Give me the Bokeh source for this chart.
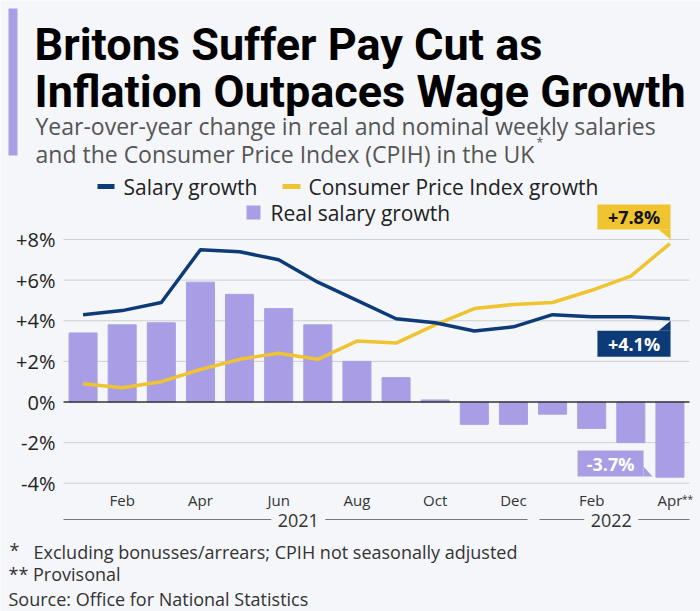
from bokeh.plotting import figure
from bokeh.models import Range1d, FixedTicker, LinearAxis
from bokeh.core.properties import value
from bokeh.embed import file_html
from bokeh.resources import INLINE

# ---------------- data ----------------
months = ["Jan", "Feb", "Mar", "Apr", "May", "Jun", "Jul", "Aug", "Sep", "Oct", "Nov", "Dec",
          "Jan", "Feb", "Mar", "Apr"]
month_idx = list(range(len(months)))
real_salary_growth = [3.4, 3.8, 3.9, 5.9, 5.3, 4.6, 3.8, 2.0, 1.2, 0.1, -1.1, -1.1, -0.6, -1.3, -2.0, -3.7]
salary_growth = [4.3, 4.5, 4.9, 7.5, 7.4, 7.0, 5.9, 5.0, 4.1, 3.9, 3.5, 3.7, 4.3, 4.2, 4.2, 4.1]
cpi_growth = [0.9, 0.7, 1.0, 1.6, 2.1, 2.4, 2.1, 3.0, 2.9, 3.8, 4.6, 4.8, 4.9, 5.5, 6.2, 7.8]

y_ticks = [-4, -2, 0, 2, 4, 6, 8]
y_tick_labels = ["-4%", "-2%", "0%", "+2%", "+4%", "+6%", "+8%"]
x_ticks = [1, 3, 5, 7, 9, 11, 13, 15]
x_tick_labels = ["Feb", "Apr", "Jun", "Aug", "Oct", "Dec", "Feb", "Apr"]
years = ["2021", "2022"]
year_first_idx = [0, 12]
year_last_idx = [11, 15]

title_lines = ["Britons Suffer Pay Cut as", "Inflation Outpaces Wage Growth"]
subtitle_lines = ["Year-over-year change in real and nominal weekly salaries",
                  "and the Consumer Price Index (CPIH) in the UK"]
legend_labels = ["Salary growth", "Consumer Price Index growth", "Real salary growth"]
footer_lines = ["Excluding bonusses/arrears; CPIH not seasonally adjusted",
                "** Provisonal",
                "Source: Office for National Statistics"]

# ---------------- style ----------------
BG = "#f4f6f9"
PURPLE = "#a99ee6"
NAVY = "#0d3b78"
YELLOW = "#f0c330"
GRID = "#cdd0d4"
TXT = "#222222"
FONT = "Open Sans"
TITLE_FONT = "Roboto"

W, H = 700, 611
# pixel geometry of the plotting area
PX_L, PX_R = 63.0, 689.0
UNIT = (PX_R - PX_L) / len(months)      # px per month
PX_ZERO = 401.5                          # pixel row of 0 %
PPP = 20.31                              # px per percentage point


def X(px):
    return -0.5 + (px - PX_L) / UNIT


def Y(py):
    return (PX_ZERO - py) / PPP


def xpix(x):
    return PX_L + (x + 0.5) * UNIT


def ypix(y):
    return PX_ZERO - y * PPP


p = figure(width=W, height=H, x_range=Range1d(X(0), X(W)), y_range=Range1d(Y(H), Y(0)),
           output_backend="svg", toolbar_location=None, min_border=0,
           x_axis_type=None, y_axis_type=None,
           background_fill_color=BG, border_fill_color=BG, outline_line_color=None)

x_lo = month_idx[0] - 0.5
x_hi = month_idx[-1] + 0.5

# ---------------- axes ----------------
yaxis = LinearAxis(fixed_location=x_lo, ticker=FixedTicker(ticks=y_ticks),
                   major_label_overrides=dict(zip(y_ticks, y_tick_labels)),
                   axis_line_color=None, major_tick_line_color=None, minor_tick_line_color=None,
                   major_tick_in=0, major_tick_out=0, major_label_standoff=8,
                   major_label_text_font=FONT, major_label_text_font_size="20px",
                   major_label_text_color=TXT)
p.add_layout(yaxis, "left")

xaxis = LinearAxis(fixed_location=y_ticks[0], ticker=FixedTicker(ticks=x_ticks),
                   major_label_overrides=dict(zip(x_ticks, x_tick_labels)),
                   axis_line_color=None, major_tick_line_color=None, minor_tick_line_color=None,
                   major_tick_in=0, major_tick_out=0, major_label_standoff=7,
                   major_label_text_font=FONT, major_label_text_font_size="15px",
                   major_label_text_color="#333333")
p.add_layout(xaxis, "below")

# grid lines (restricted to the plotting area)
grid_y = [t for t in y_ticks if t != 0]
p.segment(x0=[x_lo] * len(grid_y), x1=[x_hi] * len(grid_y), y0=grid_y, y1=grid_y,
          line_color=GRID, line_width=1)

# ---------------- data marks ----------------
p.vbar(x=month_idx, top=real_salary_growth, bottom=0, width=0.716, color=PURPLE)
p.segment(x0=[x_lo], x1=[x_hi], y0=[0], y1=[0], line_color="#333333", line_width=1.5)
p.line(month_idx, cpi_growth, line_color=YELLOW, line_width=3.5, line_join="round")
p.line(month_idx, salary_growth, line_color=NAVY, line_width=3.5, line_join="round")

# ---------------- value call-outs ----------------
lx = xpix(month_idx[-1])


def callout(l, r, t, b, tail, fill, txt, tcolor, cx):
    p.quad(left=[X(l)], right=[X(r)], top=[Y(t)], bottom=[Y(b)], fill_color=fill, line_color=None)
    p.patch([X(q[0]) for q in tail], [Y(q[1]) for q in tail], fill_color=fill, line_color=None)
    p.text(x=[X(cx)], y=[Y((t + b) / 2)], text=[txt], text_font=value(FONT), text_font_size="18px",
           text_font_style="bold", text_color=tcolor, text_align="center", text_baseline="middle")


cy = ypix(cpi_growth[-1])
r = lx + 0.6
callout(lx - 72.5, r, cy - 39, cy - 14, [(r - 12, cy - 14), (r, cy - 14), (r, cy - 4)],
        YELLOW, f"{cpi_growth[-1]:+.1f}%", "#111111", (lx - 72.5 + r) / 2)

sy = ypix(salary_growth[-1])
callout(lx - 72.5, r, sy + 12, sy + 38, [(r - 12, sy + 12), (r, sy + 12), (r, sy + 2)],
        NAVY, f"{salary_growth[-1]:+.1f}%", "white", (lx - 72.5 + r) / 2)

ry = ypix(real_salary_growth[-1])
rr = lx - 26.4
callout(rr - 66, rr, ry - 26.6, ry - 0.6, [(rr, ry - 10.6), (rr + 9, ry - 0.6), (rr, ry - 0.6)],
        PURPLE, f"{real_salary_growth[-1]:+.1f}%", "white", rr - 33)

# superscript on last month label
p.text(x=[X(xpix(month_idx[-1]) + 12)], y=[Y(491)], text=["**"], text_font=value(FONT),
       text_font_size="10px", text_color="#333333", text_align="left", text_baseline="top")

# ---------------- year groups ----------------
for yr, a, b in zip(years, year_first_idx, year_last_idx):
    gl = xpix(a - 0.5) + (0 if a == month_idx[0] else 6.5)
    gr = xpix(b + 0.5) + (0 if b == month_idx[-1] else -5.5)
    c = (xpix(a - 0.5) + xpix(b + 0.5)) / 2
    p.segment(x0=[X(gl), X(c + 27)], x1=[X(c - 27), X(gr)], y0=[Y(519)] * 2, y1=[Y(519)] * 2,
              line_color="#777777", line_width=1)
    p.text(x=[X(c)], y=[Y(520)], text=[yr], text_font=value(FONT), text_font_size="18px",
           text_color="#333333", text_align="center", text_baseline="middle")

# ---------------- title block ----------------
p.quad(left=[X(8)], right=[X(17)], top=[Y(8)], bottom=[Y(155)], fill_color=PURPLE, line_color=None)
p.text(x=[X(34)] * 2, y=[Y(44), Y(91)], text=title_lines, text_font=value(TITLE_FONT),
       text_font_size="45px", text_font_style="bold", text_color="#000000",
       text_align="left", text_baseline="alphabetic")
p.text(x=[X(35)] * 2, y=[Y(125), Y(153)], text=subtitle_lines, text_font=value(FONT),
       text_font_size="23px", text_color="#555555", text_align="left", text_baseline="alphabetic")
p.text(x=[X(536)], y=[Y(133)], text=["*"], text_font=value(FONT), text_font_size="12px",
       text_color="#555555", text_align="left", text_baseline="top")

# ---------------- legend ----------------
p.quad(left=[X(97), X(282)], right=[X(114), X(300)], top=[Y(183.5)] * 2, bottom=[Y(188.5)] * 2,
       fill_color=[NAVY, YELLOW], line_color=None)
p.quad(left=[X(246)], right=[X(260)], top=[Y(205)], bottom=[Y(219)], fill_color=PURPLE, line_color=None)
p.text(x=[X(123), X(308), X(270)], y=[Y(186), Y(186), Y(212)], text=legend_labels,
       text_font=value(FONT), text_font_size="21px", text_color=TXT,
       text_align="left", text_baseline="middle")

# ---------------- footer ----------------
p.text(x=[X(9)], y=[Y(549)], text=["*"], text_font=value(FONT), text_font_size="18px",
       text_color="#333333", text_align="left", text_baseline="middle")
p.text(x=[X(33), X(8), X(8)], y=[Y(551), Y(573), Y(598)], text=footer_lines,
       text_font=value(FONT), text_font_size="18px", text_color="#333333",
       text_align="left", text_baseline="middle")

open("out.html", "w").write(file_html(p, INLINE))
